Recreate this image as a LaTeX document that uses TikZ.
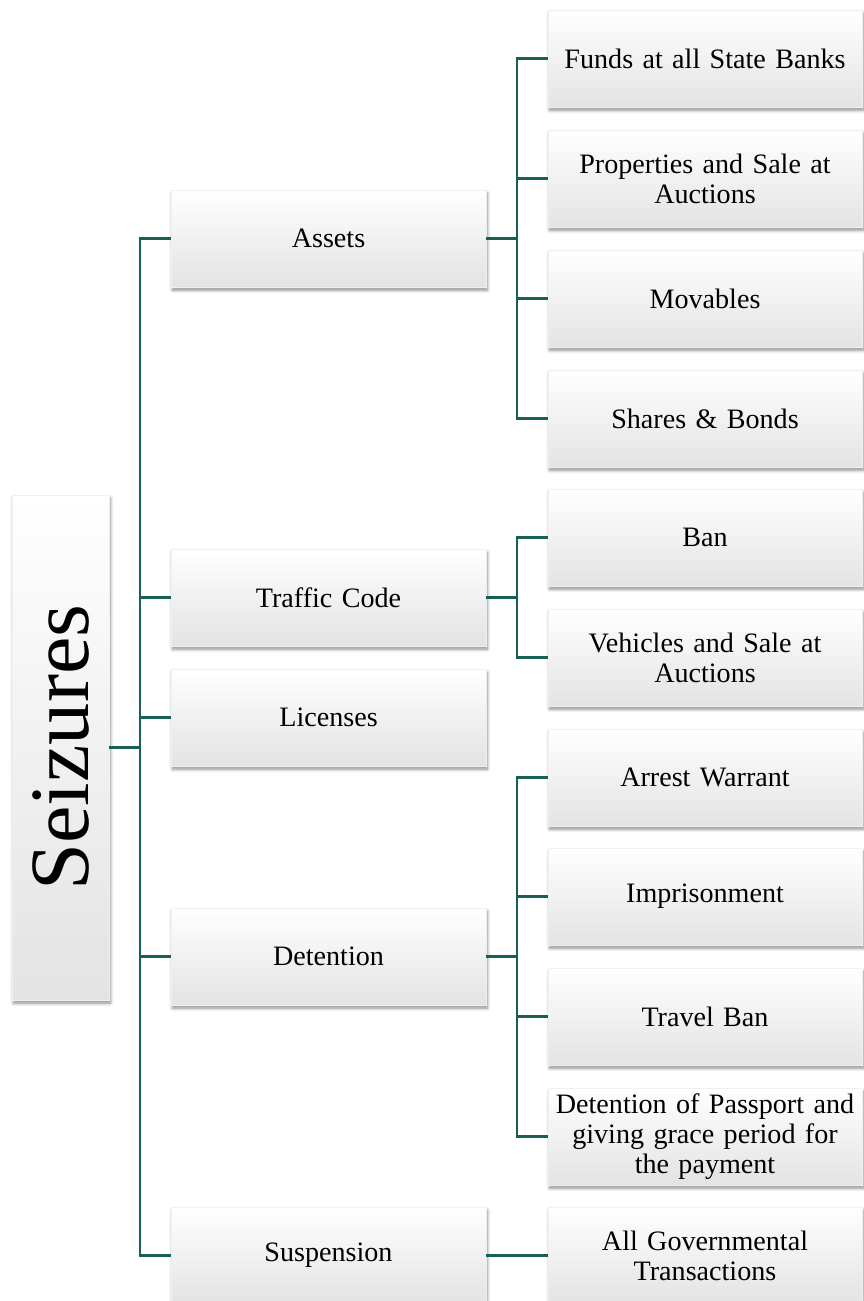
\documentclass[tikz,border=0pt]{standalone}
\usepackage{fontspec}
\setmainfont{Liberation Serif}
\usetikzlibrary{shadows.blur}
\definecolor{linkteal}{RGB}{22,96,86}
\tikzset{gbox/.style={
    rectangle,
    draw=black!6,
    align=center,
    inner sep=0pt,
    top color=white,
    middle color=white,
    bottom color=black!11,
    blur shadow={shadow xshift=0.8pt,shadow yshift=-1.8pt,shadow blur steps=6,shadow opacity=45},
    font=\fontsize{16}{17}\selectfont
  },
  midbox/.style={gbox,text width=6.2cm,minimum width=6.3cm,minimum height=1.94cm},
  leafbox/.style={gbox,text width=6.28cm,minimum width=6.28cm,minimum height=1.94cm},
  rootbox/.style={gbox,minimum width=1.94cm,minimum height=10.1cm,font=\fontsize{48}{48}\selectfont},
  link/.style={draw=linkteal,line width=1.5pt},
}

\begin{document}
\begin{tikzpicture}[x=0.02cm,y=-0.02cm]
  \useasboundingbox (0,0) rectangle (863,1301);
  % root
  \node [rootbox] (root) at (60.5,747.5) {\rotatebox{90}{Seizures}};
  % middle column
  \node [midbox] (assets) at (328.5,238.5) {Assets};
  \node [midbox] (traffic) at (328.5,597.5) {Traffic Code};
  \node [midbox] (licenses) at (328.5,717.5) {Licenses};
  \node [midbox] (detention) at (328.5,956.5) {Detention};
  \node [midbox] (suspension) at (328.5,1255.5) {Suspension};
  % right column
  \node [leafbox] (funds) at (705,58.5) {Funds at all State Banks};
  \node [leafbox] (properties) at (705,178.5) {Properties and Sale at\\Auctions};
  \node [leafbox] (movables) at (705,298.5) {Movables};
  \node [leafbox] (shares) at (705,418.5) {Shares \& Bonds};
  \node [leafbox] (ban) at (705,537.5) {Ban};
  \node [leafbox] (vehicles) at (705,657.5) {Vehicles and Sale at\\Auctions};
  \node [leafbox] (arrest) at (705,777.5) {Arrest Warrant};
  \node [leafbox] (prison) at (705,896.5) {Imprisonment};
  \node [leafbox] (travel) at (705,1016.5) {Travel Ban};
  \node [leafbox] (passport) at (705,1136.5) {Detention of Passport and\\giving grace period for\\the payment};
  \node [leafbox] (govt) at (705,1255.5) {All Governmental\\Transactions};
  % bus points
  \coordinate (trunk) at (140,747.5);
  \coordinate (abus) at (517,238.5);
  \coordinate (tbus) at (517,597.5);
  \coordinate (dbus) at (517,956.5);
  % connectors
  \draw[link] (root.east) -- (trunk);
  \draw[link] (assets.west) -| (trunk);
  \draw[link] (traffic.west) -| (trunk);
  \draw[link] (licenses.west) -| (trunk);
  \draw[link] (detention.west) -| (trunk);
  \draw[link] (suspension.west) -| (trunk);
  \draw[link] (assets.east) -- (abus);
  \draw[link] (funds.west) -| (abus);
  \draw[link] (properties.west) -| (abus);
  \draw[link] (movables.west) -| (abus);
  \draw[link] (shares.west) -| (abus);
  \draw[link] (traffic.east) -- (tbus);
  \draw[link] (ban.west) -| (tbus);
  \draw[link] (vehicles.west) -| (tbus);
  \draw[link] (detention.east) -- (dbus);
  \draw[link] (arrest.west) -| (dbus);
  \draw[link] (prison.west) -| (dbus);
  \draw[link] (travel.west) -| (dbus);
  \draw[link] (passport.west) -| (dbus);
  \draw[link] (suspension.east) -- (govt.west);
\end{tikzpicture}
\end{document}
